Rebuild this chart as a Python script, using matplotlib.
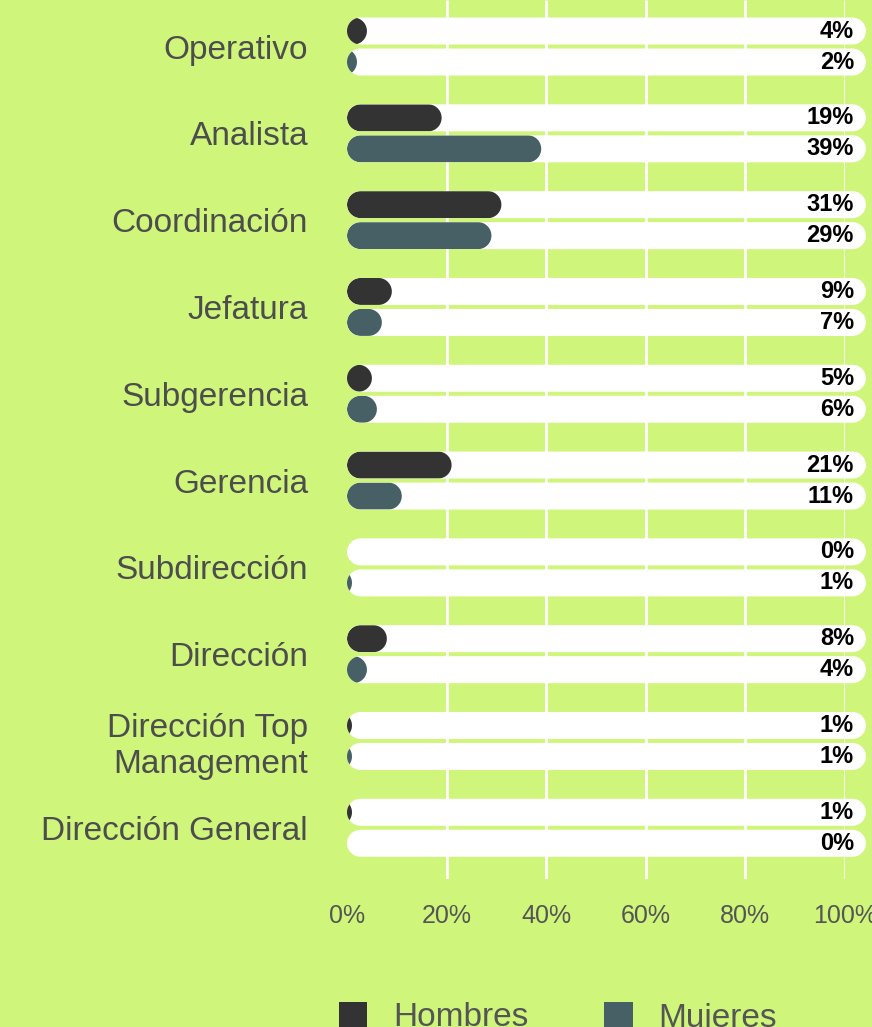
import numpy as np
import matplotlib
matplotlib.use("Agg")
import matplotlib.pyplot as plt
from matplotlib.patches import Polygon, Patch

categorias = ["Operativo", "Analista", "Coordinación", "Jefatura", "Subgerencia",
              "Gerencia", "Subdirección", "Dirección", "Dirección Top\nManagement",
              "Dirección General"]
hombres = [4, 19, 31, 9, 5, 21, 0, 8, 1, 1]
mujeres = [2, 39, 29, 7, 6, 11, 1, 4, 1, 0]
ticks = [0, 20, 40, 60, 80, 100]
series = ["Hombres", "Mujeres"]

fondo = "#cff67b"
c_h = "#333333"
c_m = "#476066"
gris = "#4d4d4d"

plt.rcParams['font.family'] = ['Liberation Sans', 'DejaVu Sans']

fig = plt.figure(figsize=(8.72, 10.27), dpi=100, facecolor=fondo)
ax = fig.add_axes([347/872, 1 - 879/1027, 498/872, 879/1027])
ax.set_facecolor(fondo)
n = len(categorias)
y_top, y_bot = -0.536, n - 1 + 0.59
ax.set_xlim(0, 100)
ax.set_ylim(y_bot, y_top)

# escala en pixeles para que las puntas sean semicirculos
ext = ax.get_window_extent()
px_x = ext.width / 100
px_y = ext.height / (y_bot - y_top)
h2 = 13.5 / px_y   # media altura de barra
off = 15.5 / px_y
r = 13.5 / px_x    # radio en unidades x
th = np.linspace(-np.pi / 2, np.pi / 2, 40)


def pill(x0, x1, yc, color, z, clip=True):
    der = np.column_stack([x1 - r + r * np.cos(th), yc + h2 * np.sin(th)])
    izq = np.column_stack([x0 + r - r * np.cos(th), yc - h2 * np.sin(th)])
    p = Polygon(np.vstack([der, izq]), closed=True, fc=color, ec="none",
                zorder=z, clip_on=clip)
    ax.add_patch(p)
    return p


ax.vlines(ticks[1:], y_top, y_bot, colors="white", lw=2, zorder=1)

for i in range(n):
    for v, dy, col in [(hombres[i], -off, c_h), (mujeres[i], off, c_m)]:
        yc = i + dy
        track = pill(0, 104.2, yc, "white", 2, clip=False)
        if v > 0:
            bar = pill(min(0, v - 2 * r), v, yc, col, 3)
            bar.set_clip_path(track)
        ax.text(101.8, yc, f"{v}%", ha="right", va="center", fontsize=17,
                fontweight="bold", color="black", zorder=4, clip_on=False)

for s in ax.spines.values():
    s.set_visible(False)

ax.set_xticks(ticks, [f"{t}%" for t in ticks], fontsize=18, color="#555555")
ax.set_yticks(range(n), categorias, fontsize=24, color=gris)
ax.tick_params(axis="x", length=0, pad=18)
ax.tick_params(axis="y", length=0, pad=28)

fig.legend(handles=[Patch(fc=c_h), Patch(fc=c_m)], labels=series,
           loc="upper left", bbox_to_anchor=(322/872, 1 - 985/1027), ncol=2,
           frameon=False, fontsize=24, handlelength=0.85, handleheight=0.85,
           handletextpad=0.78, columnspacing=2.28, borderpad=0, labelcolor="#555555")

fig.savefig("out.png", dpi=100, facecolor=fondo)
